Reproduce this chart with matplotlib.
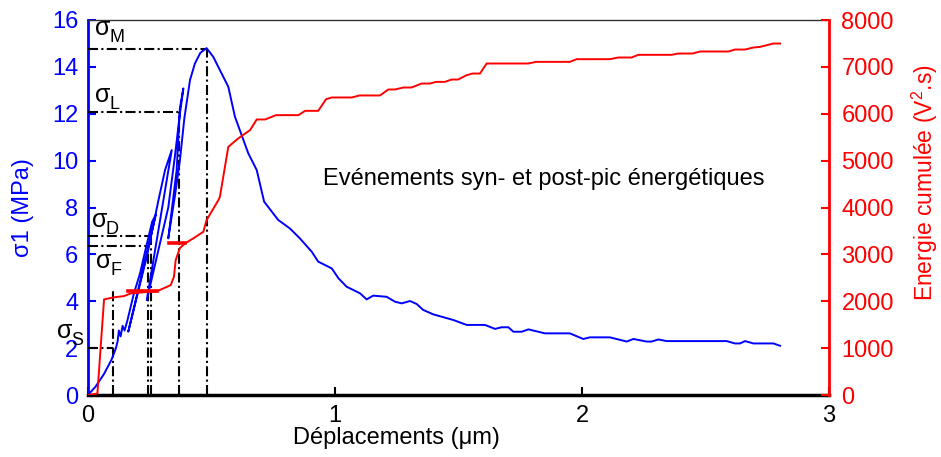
import matplotlib
matplotlib.use('Agg')
import matplotlib.pyplot as plt

plt.rcParams['font.family'] = ['Liberation Sans', 'DejaVu Sans']
plt.rcParams['mathtext.fontset'] = 'custom'
plt.rcParams['mathtext.rm'] = 'Liberation Sans'

# ---- blue curve: sigma1 (MPa) vs displacement (um) ----
disp_sigma = [0.0, 0.03, 0.065, 0.095, 0.113, 0.12, 0.125, 0.132, 0.14, 0.148, 0.16, 0.185, 0.211, 0.235, 0.26, 0.275,
              0.163,
              0.238, 0.285, 0.312, 0.339,
              0.238,
              0.325, 0.352, 0.372, 0.386,
              0.372, 0.359, 0.325,
              0.352, 0.372, 0.39, 0.413, 0.433, 0.455, 0.48,
              0.507, 0.568, 0.595, 0.649, 0.683, 0.713, 0.77, 0.818, 0.858, 0.906, 0.932, 0.987, 1.014, 1.047,
              1.101, 1.128, 1.155, 1.209, 1.243, 1.27, 1.304, 1.331, 1.357, 1.398, 1.479, 1.533, 1.607, 1.648,
              1.675, 1.702, 1.722, 1.756, 1.783, 1.85, 1.951, 2.005, 2.032, 2.113, 2.181, 2.208, 2.262, 2.282,
              2.309, 2.343, 2.586, 2.619, 2.64, 2.66, 2.694, 2.775, 2.802]
sigma1 = [0.0, 0.35, 0.9, 1.5, 2.0, 2.3, 2.75, 2.5, 2.95, 2.75, 3.2, 4.3, 5.2, 6.3, 7.4, 7.7,
          2.7,
          5.9, 8.3, 9.6, 10.45,
          4.05,
          8.0, 10.2, 12.0, 13.08,
          12.23, 9.6, 6.68,
          8.5, 10.0, 11.8, 13.44, 14.15, 14.6, 14.8,
          14.43, 13.15, 11.87, 10.31, 9.6, 8.25, 7.47, 7.1, 6.68, 6.11, 5.69, 5.40, 4.98, 4.62,
          4.34, 4.08, 4.24, 4.19, 3.98, 3.91, 4.01, 3.88, 3.63, 3.44, 3.2, 2.99, 2.99, 2.82,
          2.89, 2.89, 2.70, 2.70, 2.80, 2.63, 2.63, 2.39, 2.46, 2.46, 2.28, 2.39, 2.28, 2.28,
          2.37, 2.30, 2.30, 2.20, 2.20, 2.30, 2.20, 2.20, 2.10]

# ---- red curve: cumulated energy (V^2.s) ----
disp_energy = [0.0, 0.038, 0.065, 0.105, 0.146, 0.173, 0.254, 0.278, 0.335, 0.348, 0.355, 0.372, 0.393,
               0.426, 0.467, 0.48, 0.528, 0.534, 0.568, 0.608, 0.656, 0.683, 0.717, 0.761, 0.852, 0.879,
               0.932, 0.964, 0.987, 1.068, 1.099, 1.182, 1.216, 1.243, 1.277, 1.310, 1.351, 1.385, 1.409,
               1.445, 1.472, 1.498, 1.533, 1.557, 1.587, 1.614, 1.783, 1.814, 1.951, 1.978, 2.113, 2.147,
               2.201, 2.228, 2.363, 2.390, 2.448, 2.478, 2.593, 2.619, 2.66, 2.694, 2.721, 2.775, 2.802]
energy = [0, 30, 2040, 2083, 2110, 2168, 2203, 2210, 2345, 2522, 2878, 3134, 3235,
          3340, 3482, 3731, 4158, 4228, 5294, 5473, 5650, 5878, 5878, 5970, 5970, 6062,
          6062, 6311, 6347, 6347, 6390, 6390, 6518, 6518, 6560, 6560, 6645, 6645, 6680,
          6680, 6730, 6730, 6823, 6858, 6858, 7072, 7072, 7107, 7107, 7164, 7164, 7200,
          7200, 7257, 7257, 7285, 7285, 7328, 7328, 7370, 7370, 7413, 7427, 7498, 7498]
# short thick plateau segments on the energy curve
plateau_start = [0.162, 0.326]
plateau_end = [0.278, 0.393]
plateau_energy = [2210, 3235]

# ---- characteristic thresholds ----
thr_names = ['M', 'L', 'D', 'F', 'S']
thr_sigma = [14.76, 12.07, 6.78, 6.37, 2.0]
thr_disp = [0.48, 0.37, 0.255, 0.244, 0.10]
thr_vtop = [14.76, 12.07, 6.78, 6.37, 4.5]
label_x = [0.028, 0.028, 0.015, 0.032, -0.125]
label_y = [15.36, 12.5, 7.17, 5.42, 2.45]

W, H = 941, 457
FS = 17
fig = plt.figure(figsize=(W / 100, H / 100), dpi=100)
ax = fig.add_axes([88 / W, 1 - 395 / H, (829 - 88) / W, (395 - 20) / H])
ax2 = ax.twinx()

dashdot = (0, (4.8, 1.6, 1.0, 1.6))
for s, d, vt in zip(thr_sigma, thr_disp, thr_vtop):
    ax.plot([0, d], [s, s], color='black', lw=1.5, linestyle=dashdot, zorder=3)
    ax.plot([d, d], [0, vt], color='black', lw=1.5, linestyle=dashdot, zorder=3)
for n, lx, ly in zip(thr_names, label_x, label_y):
    ax.text(lx, ly, 'σ', fontsize=18, ha='left', va='baseline', color='black', clip_on=False)
    ax.annotate(n, xy=(lx, ly), xytext=(10.2, -5), textcoords='offset points', fontsize=13,
                ha='left', va='baseline', color='black', annotation_clip=False)

ax.plot(disp_sigma, sigma1, color='#0000ff', lw=1.4, zorder=4)

ax2.plot(disp_energy, energy, color='#ff0000', lw=1.4)
for xs, xe, e in zip(plateau_start, plateau_end, plateau_energy):
    ax2.plot([xs, xe], [e, e], color='#ff0000', lw=2.6)

ax.set_xlim(0, 3)
ax.set_ylim(0, 16)
ax2.set_ylim(0, 8000)
ax.set_xticks([0, 1, 2, 3])
ax.set_yticks(range(0, 17, 2))
ax2.set_yticks(range(0, 8001, 1000))

ax.tick_params(axis='x', direction='in', length=6, width=1.5, labelsize=FS, colors='black', pad=7)
ax.tick_params(axis='y', direction='in', length=6, width=1.5, labelsize=FS, colors='#0000ff', pad=7)
ax2.tick_params(axis='y', direction='in', length=6, width=1.5, labelsize=FS, colors='#ff0000', pad=9)

ax.spines['left'].set_color('#0000ff')
ax.spines['left'].set_linewidth(2)
ax.spines['bottom'].set_color('black')
ax.spines['bottom'].set_linewidth(2.5)
ax.spines['top'].set_color('#333333')
ax.spines['top'].set_linewidth(1)
ax.spines['right'].set_visible(False)
ax2.spines['right'].set_color('#ff0000')
ax2.spines['right'].set_linewidth(2)
ax2.spines['left'].set_visible(False)
ax2.spines['top'].set_visible(False)
ax2.spines['bottom'].set_visible(False)

ax.text(1.846, 8.96, 'Evénements syn- et post-pic énergétiques', fontsize=FS, ha='center', va='baseline',
        color='black')

fig.text(396 / W, 1 - 438 / H, 'Déplacements (μm)', fontsize=FS, ha='center', va='center', color='black')
fig.text(23 / W, 1 - 208 / H, 'σ1 (MPa)', fontsize=FS, ha='center', va='center', rotation=90,
         color='#0000ff')
fig.text(925 / W, 1 - 183 / H, 'Energie cumulée (V$^\\mathregular{2}$.s)', fontsize=16.5, ha='center',
         va='center', rotation=90, color='#ff0000')

fig.savefig('out.png', dpi=100)
